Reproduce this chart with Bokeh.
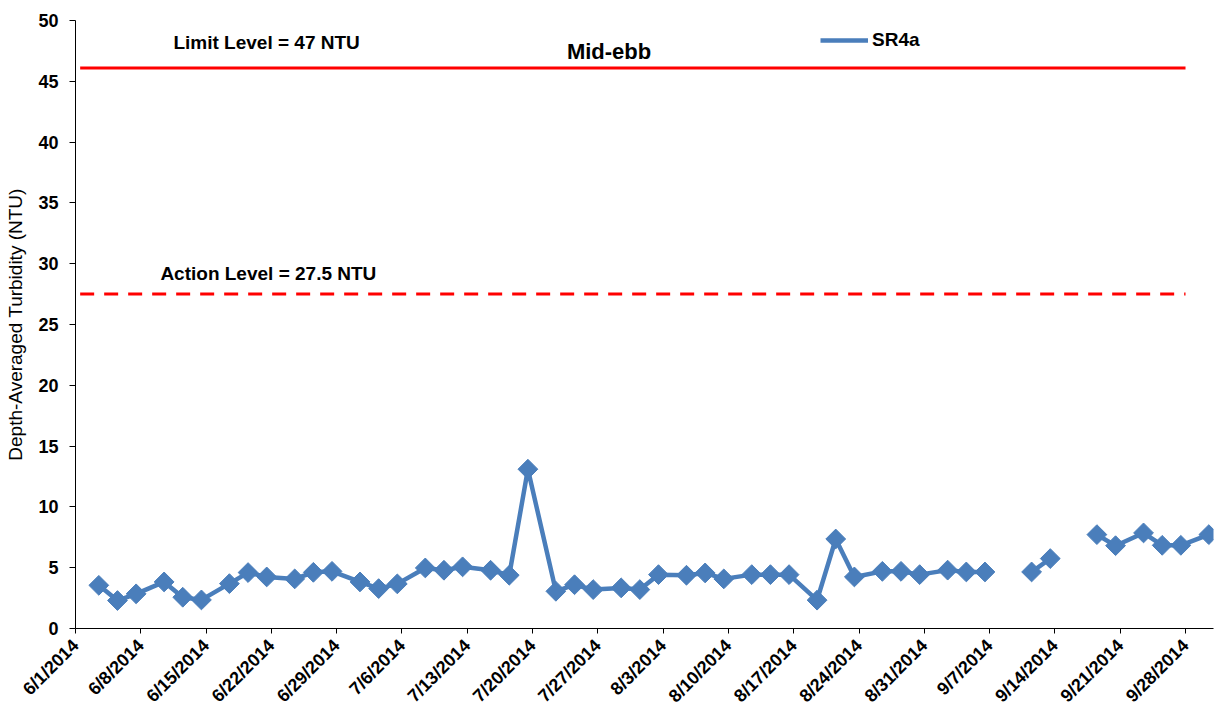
from math import pi
import numpy as np
import pandas as pd
from bokeh.plotting import figure
from bokeh.models import FixedTicker, Label, Legend, LegendItem, ColumnDataSource
from bokeh.embed import file_html
from bokeh.resources import INLINE

# ---------------- data ----------------
start_date = "2014-06-01"
end_date = "2014-10-01"

sample_dates = [
    "2014-06-03", "2014-06-05", "2014-06-07", "2014-06-10", "2014-06-12", "2014-06-14",
    "2014-06-17", "2014-06-19", "2014-06-21", "2014-06-24", "2014-06-26", "2014-06-28",
    "2014-07-01", "2014-07-03", "2014-07-05", "2014-07-08", "2014-07-10", "2014-07-12",
    "2014-07-15", "2014-07-17", "2014-07-19", "2014-07-22", "2014-07-24", "2014-07-26",
    "2014-07-29", "2014-07-31", "2014-08-02", "2014-08-05", "2014-08-07", "2014-08-09",
    "2014-08-12", "2014-08-14", "2014-08-16", "2014-08-19", "2014-08-21", "2014-08-23",
    "2014-08-26", "2014-08-28", "2014-08-30", "2014-09-02", "2014-09-04", "2014-09-06",
    "2014-09-09", "2014-09-11", "2014-09-13", "2014-09-16", "2014-09-18", "2014-09-20",
    "2014-09-23", "2014-09-25", "2014-09-27", "2014-09-30",
]
sr4a = [
    3.55, 2.30, 2.85, 3.83, 2.57, 2.35,
    3.69, 4.60, 4.24, 4.08, 4.62, 4.70,
    3.83, 3.28, 3.67, 4.98, 4.79, 5.07,
    4.79, 4.38, 13.10, 3.06, 3.60, 3.20,
    3.34, 3.20, 4.43, 4.38, 4.57, 4.08,
    4.43, 4.43, 4.43, 2.33, 7.36, 4.24,
    4.70, 4.70, 4.43, 4.80, 4.65, 4.65,
    np.nan, 4.65, 5.75, np.nan, 7.72, 6.81,
    7.86, 6.84, 6.84, 7.72,
]

tick_labels = [
    "6/1/2014", "6/8/2014", "6/15/2014", "6/22/2014", "6/29/2014", "7/6/2014",
    "7/13/2014", "7/20/2014", "7/27/2014", "8/3/2014", "8/10/2014", "8/17/2014",
    "8/24/2014", "8/31/2014", "9/7/2014", "9/14/2014", "9/21/2014", "9/28/2014",
]
y_ticks = [0, 5, 10, 15, 20, 25, 30, 35, 40, 45, 50]

limit_line_value = 46.1
action_line_value = 27.5
level_line_dates = ["2014-06-01 12:00", "2014-09-28 00:00"]

limit_text = "Limit Level = 47 NTU"
action_text = "Action Level = 27.5 NTU"
title_text = "Mid-ebb"
series_name = "SR4a"
y_title = "Depth-Averaged Turbidity (NTU)"

# ---------------- helpers ----------------
t0 = pd.Timestamp(start_date)


def day_offset(s, fmt="ISO8601"):
    return (pd.to_datetime(s, format=fmt) - t0) / pd.Timedelta(days=1)


x_pts = np.asarray(day_offset(sample_dates)) + 0.5   # date axis: points sit mid-day
tick_pos = [float(v) for v in np.asarray(day_offset(tick_labels, "%m/%d/%Y"))]
x_end = float(np.asarray(day_offset([end_date]))[0])
lvl_x = [float(v) for v in np.asarray(day_offset(level_line_dates))]

FONT = "Liberation Sans"
BLUE = "#4A7EBB"
RED = "#FF0000"

p = figure(
    width=1216, height=716,
    x_range=(0, x_end), y_range=(0, 50),
    output_backend="svg", toolbar_location=None,
    min_border_left=75, min_border_right=3, min_border_top=20, min_border_bottom=87,
)
p.outline_line_color = None
p.xgrid.visible = False
p.ygrid.visible = False
p.background_fill_color = "white"
p.border_fill_color = "white"

# y axis
ya = p.yaxis[0]
ya.ticker = FixedTicker(ticks=y_ticks)
ya.major_tick_out = 6
ya.major_tick_in = 0
ya.minor_tick_out = 0
ya.minor_tick_in = 0
ya.axis_line_color = "black"
ya.major_tick_line_color = "black"
ya.major_label_text_font = FONT
ya.major_label_text_font_style = "bold"
ya.major_label_text_font_size = "18px"
ya.major_label_text_color = "black"
ya.major_label_standoff = 11
ya.axis_label = y_title
ya.axis_label_text_font = FONT
ya.axis_label_text_font_style = "normal"
ya.axis_label_text_font_size = "19px"
ya.axis_label_text_color = "black"
ya.axis_label_standoff = 9

# x axis
xa = p.xaxis[0]
xa.ticker = FixedTicker(ticks=tick_pos)
xa.major_label_overrides = {v: lab for v, lab in zip(tick_pos, tick_labels)}
xa.major_label_orientation = pi / 4
xa.major_tick_out = 5
xa.major_tick_in = 0
xa.minor_tick_out = 0
xa.minor_tick_in = 0
xa.axis_line_color = "black"
xa.major_tick_line_color = "black"
xa.major_label_text_font = FONT
xa.major_label_text_font_style = "bold"
xa.major_label_text_font_size = "18px"
xa.major_label_text_color = "black"
xa.major_label_standoff = 9

# level lines
p.line(lvl_x, [limit_line_value] * 2, line_color=RED, line_width=3)
p.line(lvl_x, [action_line_value] * 2, line_color=RED, line_width=3, line_dash="14 10")

# series
src = ColumnDataSource(dict(x=x_pts, y=sr4a))
line_r = p.line("x", "y", source=src, line_color=BLUE, line_width=4.5)
p.scatter("x", "y", source=src, marker="square", angle=pi / 4, size=14,
          fill_color=BLUE, line_color=BLUE)
legend_marker = p.scatter(x=[], y=[], marker="square", angle=pi / 4, size=6,
                          fill_color=BLUE, line_color=BLUE)

legend = Legend(
    items=[LegendItem(label=series_name, renderers=[line_r, legend_marker])],
    location=(745, 577),
    glyph_width=48, glyph_height=20, label_standoff=4,
    padding=0, margin=0, spacing=0,
    border_line_color=None, background_fill_alpha=0,
    label_text_font=FONT, label_text_font_style="bold",
    label_text_font_size="19px", label_text_color="black",
)
p.add_layout(legend)

# texts
p.add_layout(Label(x=10.5, y=48.2, text=limit_text, text_font=FONT,
                   text_font_style="bold", text_font_size="19px",
                   text_baseline="middle", text_align="left", text_color="black"))
p.add_layout(Label(x=9.1, y=29.2, text=action_text, text_font=FONT,
                   text_font_style="bold", text_font_size="19px",
                   text_baseline="middle", text_align="left", text_color="black"))
p.add_layout(Label(x=57.2, y=47.45, text=title_text, text_font=FONT,
                   text_font_style="bold", text_font_size="22px",
                   text_baseline="middle", text_align="center", text_color="black"))

open("out.html", "w").write(file_html(p, INLINE))
